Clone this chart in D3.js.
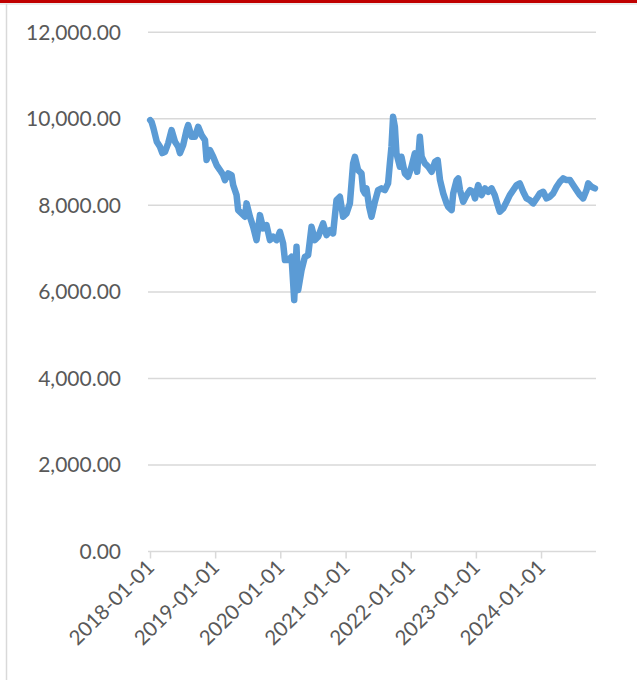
<!DOCTYPE html>
<html>
<head>
<meta charset="utf-8">
<script src="https://cdn.jsdelivr.net/npm/d3@7"></script>
<style>
  html, body { margin: 0; padding: 0; background: #ffffff; }
  svg { display: block; }
</style>
</head>
<body>
<div id="chart"></div>
<script>
const dates = [
"2018-01-02","2018-01-10","2018-01-20","2018-02-08","2018-02-26","2018-03-11","2018-03-26","2018-04-13","2018-05-02","2018-05-21",
"2018-06-08","2018-06-18","2018-07-06","2018-07-25","2018-08-03","2018-08-22","2018-09-10","2018-09-28","2018-10-17","2018-11-05",
"2018-11-14","2018-12-03","2018-12-21","2019-01-09","2019-01-28","2019-02-15","2019-02-25","2019-03-15","2019-04-03","2019-04-12",
"2019-05-01","2019-05-10","2019-05-29","2019-06-17","2019-06-26","2019-07-15","2019-08-02","2019-08-21","2019-09-09","2019-09-27",
"2019-10-16","2019-11-04","2019-11-22","2019-12-11","2019-12-30","2020-01-17","2020-01-27","2020-02-14","2020-03-04","2020-03-19",
"2020-04-01","2020-04-10","2020-04-29","2020-05-18","2020-06-05","2020-06-24","2020-07-13","2020-07-31","2020-08-28","2020-09-16",
"2020-10-05","2020-10-23","2020-11-11","2020-11-30","2020-12-18","2021-01-06","2021-01-25","2021-02-03","2021-02-12","2021-02-22",
"2021-03-12","2021-03-31","2021-04-09","2021-04-19","2021-04-28","2021-05-13","2021-05-26","2021-06-14","2021-07-02","2021-07-21",
"2021-08-09","2021-08-27","2021-09-06","2021-09-15","2021-09-24","2021-10-04","2021-10-13","2021-11-01","2021-11-10","2021-11-29",
"2021-12-17","2022-01-05","2022-01-24","2022-02-06","2022-02-21","2022-03-03","2022-03-21","2022-04-09","2022-04-28","2022-05-17",
"2022-06-01","2022-06-14","2022-07-02","2022-07-21","2022-07-30","2022-08-18","2022-08-27","2022-09-15","2022-09-24","2022-10-04",
"2022-10-22","2022-11-10","2022-11-29","2022-12-17","2022-12-27","2023-01-14","2023-02-02","2023-02-21","2023-03-11","2023-03-30",
"2023-04-17","2023-05-06","2023-05-15","2023-06-03","2023-06-22","2023-07-10","2023-07-29","2023-08-17","2023-09-04","2023-09-23",
"2023-10-12","2023-10-30","2023-11-18","2023-12-07","2023-12-25","2024-01-13","2024-02-01","2024-02-19","2024-03-09","2024-03-28",
"2024-04-16","2024-05-04","2024-05-23","2024-06-11","2024-06-29","2024-07-18","2024-08-06","2024-08-24","2024-09-12","2024-09-21",
"2024-10-10","2024-10-29"
];
const values = [
9970,9926,9787,9470,9354,9209,9239,9440,9741,9470,
9354,9209,9394,9741,9856,9586,9586,9817,9625,9509,
9047,9278,9123,8931,8816,8700,8584,8739,8700,8469,
8238,7891,7815,7736,8046,7736,7505,7197,7775,7468,
7544,7197,7274,7197,7389,7121,6735,6735,6811,5810,
7042,6041,6504,6811,6851,7505,7197,7274,7583,7313,
7428,7352,8122,8198,7736,7815,8046,8508,8971,9123,
8816,8739,8353,8277,8393,7967,7736,8083,8353,8393,
8353,8508,8971,9354,10048,9817,9202,8892,9123,8739,
8661,8892,9202,8777,9586,9123,8971,8892,8777,9008,
9047,8584,8277,8046,7967,7891,8277,8584,8624,8353,
8083,8238,8353,8314,8161,8469,8238,8393,8314,8393,
8238,7967,7852,7930,8083,8238,8353,8469,8508,8314,
8161,8122,8046,8161,8277,8314,8161,8198,8277,8430,
8545,8624,8584,8584,8469,8353,8238,8161,8353,8508,
8430,8393
];
const yTicks = [0, 2000, 4000, 6000, 8000, 10000, 12000];
const xTickLabels = ["2018-01-01","2019-01-01","2020-01-01","2021-01-01","2022-01-01","2023-01-01","2024-01-01"];
const xDomain = ["2018-01-01", "2024-11-04"];

const W = 637, H = 680;
const parse = d3.timeParse("%Y-%m-%d");
const data = dates.map((d, i) => ({ date: parse(d), value: values[i] }));

const svg = d3.select("#chart").append("svg").attr("width", W).attr("height", H);

// frame decorations
svg.append("rect").attr("x", 0).attr("y", 0).attr("width", W).attr("height", 3).attr("fill", "#c00000");
svg.append("line").attr("x1", 0).attr("x2", W).attr("y1", 4).attr("y2", 4).attr("stroke", "#e6e6e6").attr("stroke-width", 1.5);
svg.append("line").attr("x1", 6.5).attr("x2", 6.5).attr("y1", 4).attr("y2", H).attr("stroke", "#d9d9d9").attr("stroke-width", 1.5);

const x = d3.scaleTime().domain(xDomain.map(parse)).range([150, 596]);
const y = d3.scaleLinear().domain([0, 12000]).range([551.5, 32.3]);

const fontFam = "Lato, 'Open Sans', sans-serif";

// gridlines
svg.append("g").selectAll("line").data(yTicks.filter(v => v > 0)).join("line")
  .attr("x1", 148).attr("x2", 596)
  .attr("y1", d => y(d)).attr("y2", d => y(d))
  .attr("stroke", "#d9d9d9").attr("stroke-width", 1.5);

// y axis labels
const yFmt = d3.format(",.2f");
svg.append("g").selectAll("text").data(yTicks).join("text")
  .attr("x", 121).attr("y", d => y(d))
  .attr("dy", "0.35em")
  .attr("text-anchor", "end")
  .attr("font-family", fontFam).attr("font-size", 21)
  .attr("fill", "#595959")
  .text(d => yFmt(d));

// x axis
const xAxis = d3.axisBottom(x)
  .tickValues(xTickLabels.map(parse))
  .tickSize(7)
  .tickSizeOuter(0)
  .tickFormat(d3.timeFormat("%Y-%m-%d"));
const gx = svg.append("g").attr("transform", `translate(0,${y(0)})`).call(xAxis);
gx.select(".domain").attr("stroke", "#d9d9d9").attr("stroke-width", 1.5).attr("d", `M148,0H596`);
gx.selectAll(".tick line").attr("stroke", "#d9d9d9").attr("stroke-width", 1.5);
gx.selectAll(".tick text")
  .attr("font-family", fontFam).attr("font-size", 20.5).attr("fill", "#595959")
  .attr("text-anchor", "end")
  .attr("transform", "translate(0,12) rotate(-45)")
  .attr("dy", "0.35em").attr("y", 0).attr("x", 0);

// line
const line = d3.line().x(d => x(d.date)).y(d => y(d.value)).curve(d3.curveLinear);
svg.append("path").datum(data)
  .attr("d", line)
  .attr("fill", "none")
  .attr("stroke", "#5b9bd5")
  .attr("stroke-width", 6.5)
  .attr("stroke-linejoin", "round")
  .attr("stroke-linecap", "round");
</script>
</body>
</html>
